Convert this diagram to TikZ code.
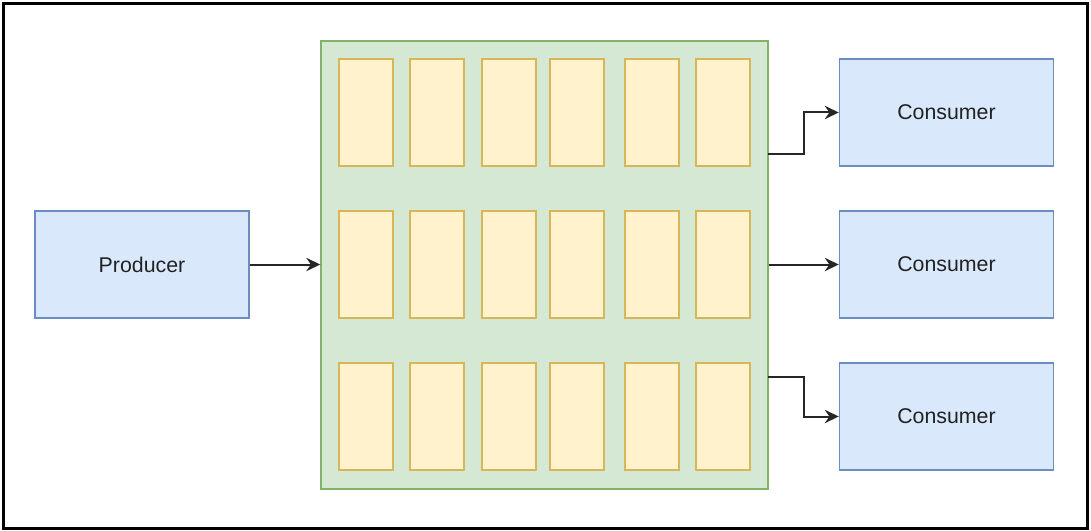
\documentclass[tikz,border=0pt]{standalone}
\usepackage{fontspec}
\setmainfont{Liberation Sans}
\usetikzlibrary{arrows.meta}
\definecolor{bfill}{HTML}{DAE8FC}
\definecolor{bdraw}{HTML}{6C8EBF}
\definecolor{gfill}{HTML}{D5E8D4}
\definecolor{gdraw}{HTML}{82B366}
\definecolor{yfill}{HTML}{FFF2CC}
\definecolor{ydraw}{HTML}{D6B656}
\definecolor{txt}{HTML}{222222}
\begin{document}
\begin{tikzpicture}[x=0.75pt,y=-0.75pt,
  bluebox/.style={draw=bdraw,fill=bfill,line width=1.1pt,minimum width=214*0.75pt,minimum height=107*0.75pt,inner sep=0pt,text=txt,font=\fontsize{16}{19}\selectfont},
  greenbox/.style={draw=gdraw,fill=gfill,line width=1.1pt,minimum width=447*0.75pt,minimum height=448*0.75pt,inner sep=0pt},
  cell/.style={draw=ydraw,fill=yfill,line width=1.1pt,minimum width=54*0.75pt,minimum height=107*0.75pt,inner sep=0pt},
  arr/.style={-{Stealth[length=10.5pt,width=10pt,inset=3.5pt]},line width=1.5pt,draw=black!85}]
\useasboundingbox (0,0) rectangle (1091,531);
\draw[line width=2.3pt] (3.5,3.5) rectangle (1087.5,528.5);
\node[greenbox] (g) at (544.5,265) {};
\foreach \r/\y in {1/112.5,2/264.5,3/416.5}{
  \foreach \c/\x in {1/366,2/437,3/509,4/577,5/652,6/723}{
    \node[cell] (cell\r\c) at (\x,\y) {};
  }
}
\node[bluebox] (p) at (142,264.5) {Producer};
\node[bluebox] (c1) at (946.5,112.5) {Consumer};
\node[bluebox] (c2) at (946.5,264.5) {Consumer};
\node[bluebox] (c3) at (946.5,416.5) {Consumer};
\coordinate (o1) at (768,154);
\coordinate (o3) at (768,377);
\draw[arr] (p.east) -- (g.west |- p.east);
\draw[arr] (o1) -- (804,154) |- (c1.west);
\draw[arr] (g.east |- c2.west) -- (c2.west);
\draw[arr] (o3) -- (804,377) |- (c3.west);
\end{tikzpicture}
\end{document}
